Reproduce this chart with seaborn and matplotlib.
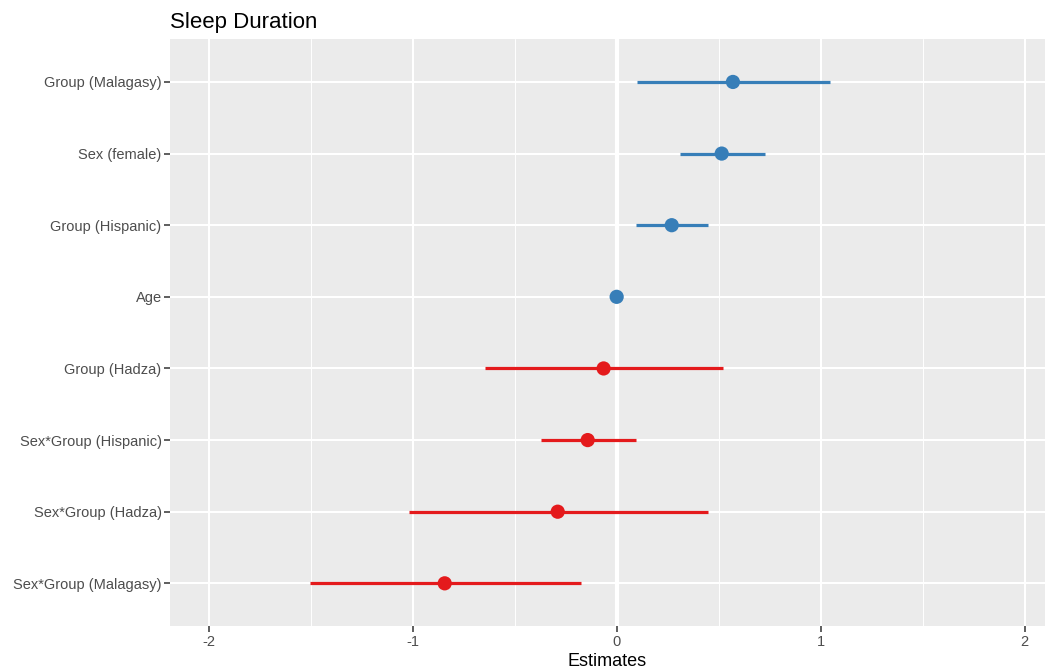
import numpy as np
import pandas as pd
import matplotlib
matplotlib.use("Agg")
import matplotlib.pyplot as plt
from matplotlib.ticker import MultipleLocator
import seaborn as sns

terms = ["Group (Malagasy)", "Sex (female)", "Group (Hispanic)", "Age",
         "Group (Hadza)", "Sex*Group (Hispanic)", "Sex*Group (Hadza)",
         "Sex*Group (Malagasy)"]
estimates = [0.57, 0.515, 0.27, 0.0, -0.064, -0.142, -0.289, -0.843]
ci_low = [0.098, 0.31, 0.093, 0.0, -0.647, -0.373, -1.02, -1.505]
ci_high = [1.045, 0.725, 0.446, 0.0, 0.52, 0.093, 0.446, -0.176]
direction = ["pos", "pos", "pos", "pos", "neg", "neg", "neg", "neg"]
x_ticks = [-2, -1, 0, 1, 2]

palette = {"pos": "#377EB8", "neg": "#E41A1C"}

df = pd.DataFrame({"term": terms, "est": estimates, "lo": ci_low,
                   "hi": ci_high, "dir": direction})
df["pos"] = np.arange(len(df))

sns.set_theme(style="darkgrid")
plt.rcParams["font.family"] = ["Liberation Sans", "DejaVu Sans"]

fig = plt.figure(figsize=(10.53, 6.72), dpi=100)
ax = fig.add_axes([0.1614, 0.068, 0.831, 0.874])
ax.set_facecolor("#EBEBEB")

# grid
ax.set_xlim(-2.19, 2.10)
ax.set_ylim(len(df) - 0.4, -0.6)
ax.xaxis.set_major_locator(MultipleLocator(1))
ax.xaxis.set_minor_locator(MultipleLocator(0.5))
ax.set_xticks(x_ticks)
ax.set_xticklabels([str(t) for t in x_ticks])
ax.set_yticks(df["pos"])
ax.set_yticklabels(df["term"])
ax.grid(which="major", color="white", linewidth=1.5)
ax.grid(which="minor", axis="x", color="white", linewidth=0.7)
ax.set_axisbelow(True)
ax.axvline(0, color="white", linewidth=3, zorder=1)

for _, r in df.iterrows():
    ax.hlines(r["pos"], r["lo"], r["hi"], color=palette[r["dir"]],
              linewidth=2.3, zorder=2)

sns.scatterplot(data=df, x="est", y="pos", hue="dir", palette=palette,
                s=105, edgecolor="none", legend=False, ax=ax, zorder=3)

for s in ax.spines.values():
    s.set_visible(False)

ax.tick_params(axis="both", which="major", length=4, width=1.1,
               color="#333333", labelcolor="#4D4D4D", labelsize=10.5,
               left=True, bottom=True, pad=2)
ax.tick_params(axis="x", which="minor", length=0)

ax.set_xlabel("Estimates", fontsize=13, color="black", labelpad=3)
ax.set_ylabel("")
ax.set_title("Sleep Duration", loc="left", fontsize=16, color="black", pad=8)

fig.savefig("out.png", dpi=100)
